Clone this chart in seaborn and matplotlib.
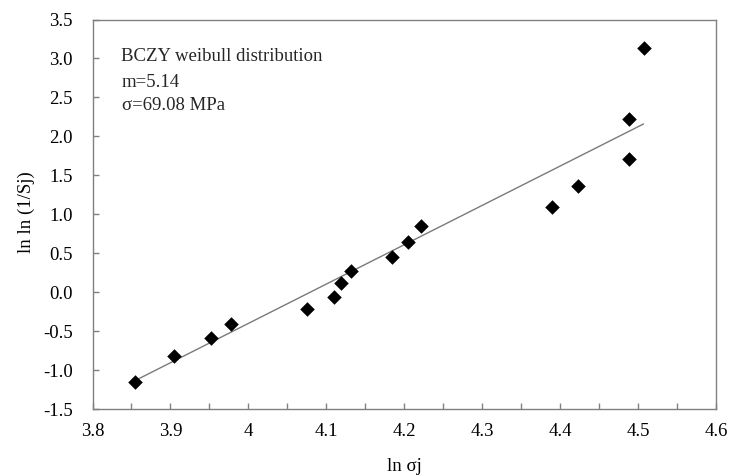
import matplotlib
matplotlib.use("Agg")
import matplotlib.pyplot as plt
import seaborn as sns
import pandas as pd
from matplotlib.ticker import MultipleLocator, FixedLocator, FixedFormatter

# data
ln_sigma = [3.855, 3.904, 3.952, 3.978, 4.075, 4.110, 4.119, 4.132,
            4.184, 4.205, 4.221, 4.389, 4.423, 4.488, 4.488, 4.507]
lnln_S = [-1.154, -0.816, -0.589, -0.402, -0.217, -0.056, 0.116, 0.278,
          0.457, 0.642, 0.855, 1.091, 1.364, 1.711, 2.220, 3.138]
fit_x = [3.855, 4.507]
fit_y = [-1.13, 2.16]
x_ticks = [3.8, 3.9, 4.0, 4.1, 4.2, 4.3, 4.4, 4.5, 4.6]
x_labels = ["3.8", "3.9", "4", "4.1", "4.2", "4.3", "4.4", "4.5", "4.6"]
y_ticks = [-1.5, -1.0, -0.5, 0.0, 0.5, 1.0, 1.5, 2.0, 2.5, 3.0, 3.5]
y_labels = ["-1.5", "-1.0", "-0.5", "0.0", "0.5", "1.0", "1.5", "2.0", "2.5", "3.0", "3.5"]
annot = ["BCZY weibull distribution", "m=5.14", "σ=69.08 MPa"]

sns.set_theme(style="white")
plt.rcParams['font.family'] = ['Liberation Serif', 'DejaVu Serif']

FS = 13.5

df = pd.DataFrame({"x": ln_sigma, "y": lnln_S})
fit = pd.DataFrame({"x": fit_x, "y": fit_y})

fig = plt.figure(figsize=(7.31, 4.76), dpi=100)
ax = fig.add_axes([92.5 / 731, 1 - 409.3 / 476, (716 - 92.5) / 731, (409.3 - 19.5) / 476])

sns.lineplot(data=fit, x="x", y="y", ax=ax, color="#7a7a7a", linewidth=1.0)
sns.scatterplot(data=df, x="x", y="y", ax=ax, marker="D", color="black",
                s=55, linewidth=0, zorder=3)

ax.set_xlim(3.8, 4.6)
ax.set_ylim(-1.5, 3.5)
ax.xaxis.set_major_locator(FixedLocator(x_ticks))
ax.xaxis.set_major_formatter(FixedFormatter(x_labels))
ax.xaxis.set_minor_locator(MultipleLocator(0.05))
ax.yaxis.set_major_locator(FixedLocator(y_ticks))
ax.yaxis.set_major_formatter(FixedFormatter(y_labels))

for s in ax.spines.values():
    s.set_color("#808080")
    s.set_linewidth(1.0)

ax.tick_params(axis="x", which="both", direction="in", length=4, width=1,
               color="#808080", labelsize=FS, pad=10, labelcolor="black",
               bottom=True)
ax.tick_params(axis="y", which="major", direction="in", length=4, width=1,
               color="#808080", labelsize=FS, pad=14, labelcolor="black",
               left=True)

ax.set_xlabel("ln σj", fontsize=FS, color="black")
ax.set_ylabel("ln ln (1/Sj)", fontsize=FS, color="black")
ax.xaxis.set_label_coords(0.5, -0.125)
ax.yaxis.set_label_coords(-0.093, 0.505)

fig.text(120.7 / 731, 1 - 61 / 476, annot[0], fontsize=FS, va="baseline", ha="left")
fig.text(121.7 / 731, 1 - 87.3 / 476, annot[1], fontsize=FS, va="baseline", ha="left")
fig.text(121.7 / 731, 1 - 110 / 476, annot[2], fontsize=FS, va="baseline", ha="left")

fig.savefig("out.png", dpi=100)
